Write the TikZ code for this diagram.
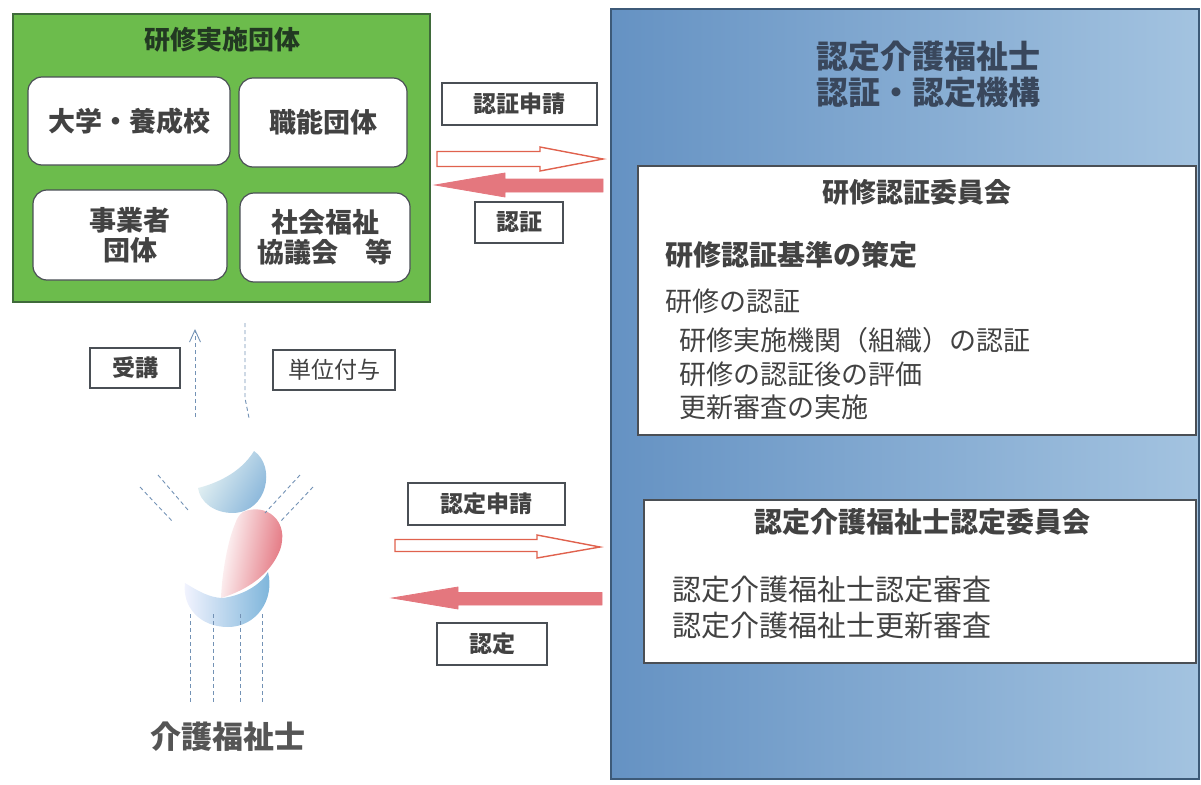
\documentclass[tikz,border=0pt]{standalone}
\usepackage{fontspec}
\newfontfamily\jp{Noto Sans CJK JP}
\usetikzlibrary{arrows.meta,calc}

\definecolor{grnfill}{HTML}{6CBC4C}
\definecolor{grnline}{HTML}{3F6A3A}
\definecolor{bluleft}{HTML}{6592C3}
\definecolor{bluright}{HTML}{A3C3E0}
\definecolor{bluline}{HTML}{3D5A78}
\definecolor{inktext}{HTML}{424242}
\definecolor{titleink}{HTML}{39475C}
\definecolor{boxline}{HTML}{4A4F55}
\definecolor{arrowred}{HTML}{E4777E}
\definecolor{arrowedge}{HTML}{E0624E}
\definecolor{dashblue}{HTML}{7392B5}
\definecolor{torsored}{HTML}{E0636F}

\newcommand{\fsz}[1]{\fontsize{#1pt}{#1pt}\selectfont}

\tikzset{
  every node/.style={font=\jp, text=inktext},
  group/.style={draw=grnline, fill=grnfill, line width=1.3pt},
  agency/.style={draw=bluline, line width=1.3pt, left color=bluleft, right color=bluright},
  unitbox/.style={draw=boxline, fill=white, rounded corners=14pt, line width=1.2pt,
                  align=center, font=\jp\bfseries\fsz{27}},
  tagbox/.style={draw=boxline, fill=white, line width=1.2pt, inner sep=0pt,
                 font=\jp\bfseries\fsz{23}},
  committee/.style={draw=boxline, fill=white, line width=1.3pt, inner sep=0pt},
  itemline/.style={anchor=west, inner sep=0pt, font=\jp\fsz{27}},
  openarrow/.style={draw=arrowedge, fill=white, line width=1.4pt, line join=miter},
  fullarrow/.style={draw=arrowred, fill=arrowred, line width=0.8pt},
  dashline/.style={draw=dashblue, line width=0.9pt, dash pattern=on 4pt off 3pt},
}

\begin{document}
\begin{tikzpicture}[x=1pt,y=-1pt]
\useasboundingbox (0,0) rectangle (1201,784);

% ---------- training bodies ----------
\path[group] (13,14) rectangle (430,302);
\node[font=\jp\bfseries\fsz{26}, text=inktext!85!green!60!black] (grouptitle) at (222,40) {研修実施団体};
\node[unitbox, minimum width=202pt, minimum height=88pt] (univ) at (129,121) {大学・養成校};
\node[unitbox, minimum width=168pt, minimum height=89pt] (prof) at (323,122.5) {職能団体};
\node[unitbox, minimum width=194pt, minimum height=90pt] (biz) at (130,235) {事業者\\[3pt]団体};
\node[unitbox, minimum width=170pt, minimum height=89pt] (council) at (325,237.5) {社会福祉\\[3pt]協議会\quad 等};

% ---------- certification organisation ----------
\path[agency] (611,9) rectangle (1199,779);
\node[font=\jp\bfseries\fsz{32}, text=titleink, align=center] (orgtitle) at (928,74)
  {認定介護福祉士\\[4pt]認証・認定機構};

\node[committee, minimum width=558pt, minimum height=269pt] (trainc) at (917,300.5) {};
\node[font=\jp\bfseries\fsz{27}] (traint) at (917,192) {研修認証委員会};
\node[itemline, font=\jp\bfseries\fsz{28}] (tl1) at (665,255) {研修認証基準の策定};
\node[itemline] (tl2) at (665,301) {研修の認証};
\node[itemline] (tl3) at (679,340) {研修実施機関（組織）の認証};
\node[itemline] (tl4) at (679,374) {研修の認証後の評価};
\node[itemline] (tl5) at (679,407) {更新審査の実施};

\node[committee, minimum width=552pt, minimum height=163pt] (certc) at (920,581.5) {};
\node[font=\jp\bfseries\fsz{28}] (certt) at (922,522) {認定介護福祉士認定委員会};
\node[itemline, font=\jp\fsz{29}] (cl1) at (672,590) {認定介護福祉士認定審査};
\node[itemline, font=\jp\fsz{29}] (cl2) at (672,626) {認定介護福祉士更新審査};

% ---------- exchange labels ----------
\node[tagbox, minimum width=155pt, minimum height=42pt] (applyauth) at (519.5,104) {認証申請};
\node[tagbox, minimum width=88pt, minimum height=41pt] (auth) at (519,222.5) {認証};
\node[tagbox, minimum width=157pt, minimum height=42pt] (applycert) at (486.5,504) {認定申請};
\node[tagbox, minimum width=110pt, minimum height=42pt] (cert) at (492,644) {認定};
\node[tagbox, minimum width=90pt, minimum height=40pt] (attend) at (135,368) {受講};
\node[tagbox, minimum width=122pt, minimum height=40pt, font=\jp\fsz{23}] (credit) at (334,370) {単位付与};

% ---------- block arrows ----------
\path[openarrow] (437,151.5) -- (540,151.5) -- (540,147) -- (603,159) -- (540,171)
  -- (540,166.5) -- (437,166.5) -- cycle;
\path[fullarrow] (603,179) -- (505,179) -- (505,173) -- (435,185) -- (505,197)
  -- (505,192) -- (603,192) -- cycle;
\path[openarrow] (395,539.5) -- (537,539.5) -- (537,535) -- (600,547) -- (537,558)
  -- (537,551.5) -- (395,551.5) -- cycle;
\path[fullarrow] (602,592.5) -- (458,592.5) -- (458,587) -- (392,598) -- (458,609)
  -- (458,605) -- (602,605) -- cycle;

% ---------- care worker figure ----------
\coordinate (upfoot) at (195,417);
\coordinate (uphead) at (195,329);
\draw[dashline, -{Straight Barb[length=12pt,width=11pt,line width=0.9pt]}] (upfoot) -- (uphead);
\coordinate (dntop) at (245,323);
\coordinate (dnbend) at (245,398);
\coordinate (dnend) at (249,418);
\draw[dashline] (dntop) -- (dnbend) -- (dnend);

% head
\path[left color=white!70!teal!30, right color=blue!45!cyan!40!white!85!black,
      shading angle=60]
  (254,451) .. controls (276,466) and (268,512) .. (233,513)
  .. controls (214,513) and (200,502) .. (198,488)
  .. controls (214,484) and (240,474) .. (254,451) -- cycle;
% torso
\path[left color=white, right color=torsored, shading angle=80]
  (243,512) .. controls (266,502) and (290,521) .. (280,550)
  .. controls (270,575) and (247,590) .. (221,598)
  .. controls (222,572) and (228,540) .. (235,524)
  .. controls (237,518) and (239,515) .. (243,512) -- cycle;
% base
\path[left color=white!80!blue!20, right color=blue!40!cyan!45!white!85!black]
  (185,583) .. controls (198,591) and (210,598) .. (223,598)
  .. controls (245,595) and (262,583) .. (268,572)
  .. controls (275,600) and (256,627) .. (228,627)
  .. controls (199,627) and (182,606) .. (185,583) -- cycle;

% arms
\coordinate (la1) at (140,487); \coordinate (la2) at (173,522);
\coordinate (lb1) at (158,475); \coordinate (lb2) at (188,510);
\coordinate (ra1) at (300,475); \coordinate (ra2) at (265,513);
\coordinate (rb1) at (313,487); \coordinate (rb2) at (280,522);
\draw[dashline] (la1) -- (la2);
\draw[dashline] (lb1) -- (lb2);
\draw[dashline] (ra1) -- (ra2);
\draw[dashline] (rb1) -- (rb2);

% legs
\foreach \lx [count=\k] in {190,213,240,262} {
  \coordinate (leg\k top) at (\lx,614);
  \coordinate (leg\k bot) at (\lx,703);
  \draw[dashline] (leg\k top) -- (leg\k bot);
}

\node[font=\jp\bfseries\fsz{31}, text=inktext!90] (worker) at (228,737) {介護福祉士};
\end{tikzpicture}
\end{document}
